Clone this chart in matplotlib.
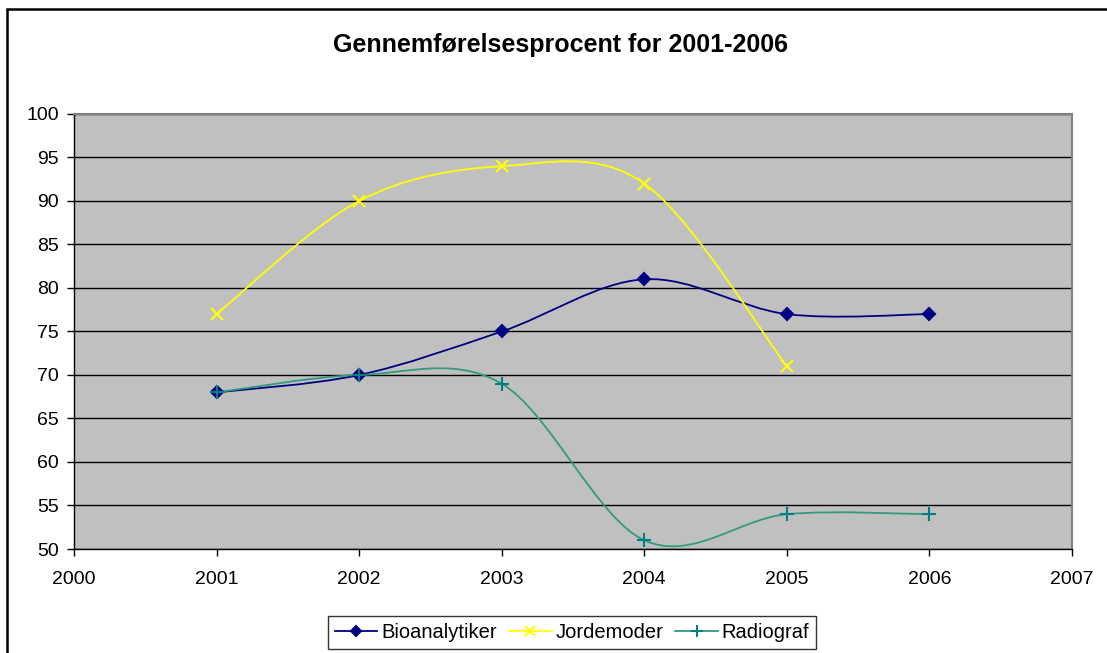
import numpy as np
import matplotlib
matplotlib.use('Agg')
import matplotlib.pyplot as plt
from matplotlib.path import Path
from matplotlib.patches import PathPatch, Rectangle
from matplotlib.lines import Line2D

plt.rcParams['font.family'] = ['Liberation Sans', 'DejaVu Sans']

years_bio = [2001, 2002, 2003, 2004, 2005, 2006]
bioanalytiker = [68, 70, 75, 81, 77, 77]
years_jord = [2001, 2002, 2003, 2004, 2005]
jordemoder = [77, 90, 94, 92, 71]
years_radio = [2001, 2002, 2003, 2004, 2005, 2006]
radiograf = [68, 70, 69, 51, 54, 54]

x_ticks = [2000, 2001, 2002, 2003, 2004, 2005, 2006, 2007]
y_ticks = [50, 55, 60, 65, 70, 75, 80, 85, 90, 95, 100]


def smooth_path(xs, ys):
    # Excel-style smoothed line as cubic bezier segments
    pts = np.column_stack([xs, ys]).astype(float)
    verts = [pts[0]]
    codes = [Path.MOVETO]
    n = len(pts)
    for i in range(n - 1):
        p0 = pts[i - 1] if i > 0 else pts[i]
        p1 = pts[i]
        p2 = pts[i + 1]
        p3 = pts[i + 2] if i + 2 < n else pts[i + 1]
        c1 = p1 + (p2 - p0) / 6
        c2 = p2 - (p3 - p1) / 6
        verts += [c1, c2, p2]
        codes += [Path.CURVE4] * 3
    return Path(verts, codes)


fig = plt.figure(figsize=(11.07, 6.53), dpi=100)
fig.patches.append(Rectangle((7 / 1107, -0.05), 1.2, 1 - 9 / 653 + 0.05,
                             transform=fig.transFigure, fill=False,
                             edgecolor='black', linewidth=1.8))

ax = fig.add_axes([74 / 1107, 1 - 549 / 653, (1072 - 74) / 1107, (549 - 114) / 653])
ax.set_facecolor('#c0c0c0')

series = [
    (years_bio, bioanalytiker, 'Bioanalytiker', '#000080', '#000080', 'D', 6.5),
    (years_jord, jordemoder, 'Jordemoder', '#ffff00', '#ffff00', 'x', 9),
    (years_radio, radiograf, 'Radiograf', '#339980', '#008080', '+', 10),
]

handles = []
for xs, ys, name, lc, mc, mk, ms in series:
    ax.add_patch(PathPatch(smooth_path(xs, ys), facecolor='none',
                           edgecolor=lc, linewidth=1.3, zorder=3))
    ax.plot(xs, ys, linestyle='none', marker=mk, markersize=ms,
            color=mc, markeredgecolor=mc, markeredgewidth=1.5, zorder=4)
    handles.append(Line2D([], [], color=lc, marker=mk, markersize=ms * 0.8,
                          markerfacecolor=mc, markeredgecolor=mc,
                          markeredgewidth=1.5, linewidth=1.3))

ax.set_xlim(2000, 2007)
ax.set_ylim(50, 100)
ax.set_xticks(x_ticks)
ax.set_yticks(y_ticks)
ax.yaxis.grid(True, color='black', linewidth=1)
ax.set_axisbelow(True)
ax.tick_params(direction='out', length=5, width=1, labelsize=14, colors='black',
               pad=6)
ax.tick_params(axis='x', pad=11)
for side in ['top', 'right']:
    ax.spines[side].set_color('#808080')
    ax.spines[side].set_linewidth(1.5)
for side in ['left', 'bottom']:
    ax.spines[side].set_linewidth(1)

fig.text(0.506, 0.931, 'Gennemførelsesprocent for 2001-2006', ha='center',
         va='center', fontsize=18, fontweight='bold')

leg = fig.legend(handles=handles, labels=[s[2] for s in series],
                 loc='center', bbox_to_anchor=(0.517, 0.032), ncol=3,
                 fontsize=14.5, frameon=True, fancybox=False, handlelength=2.1,
                 handletextpad=0.2, columnspacing=0.6, borderpad=0.35,
                 borderaxespad=0, edgecolor='black')
leg.get_frame().set_linewidth(1)

fig.savefig('out.png', dpi=100)
